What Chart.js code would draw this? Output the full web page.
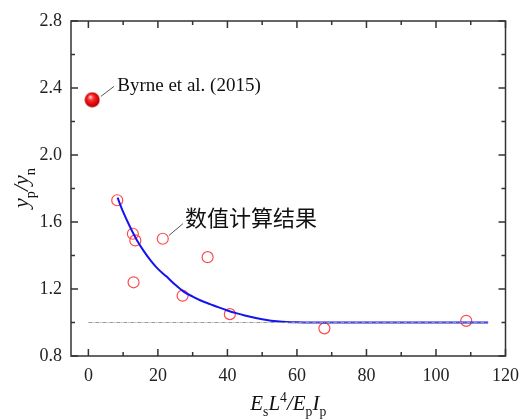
<!DOCTYPE html>
<html>
<head>
<meta charset="utf-8">
<script src="https://cdn.jsdelivr.net/npm/chart.js@4/dist/chart.umd.min.js"></script>
<style>
  html, body { margin: 0; padding: 0; background: #fff; }
  #wrap { width: 520px; height: 420px; }
</style>
</head>
<body>
<div id="wrap"><canvas id="mycanvas"></canvas></div>
<script>
// numerical results (open circles)
var simX = [8.3, 12.8, 13.5, 13.0, 21.4, 34.3, 27.1, 40.7, 67.9, 108.7];
var simY = [1.73, 1.53, 1.49, 1.24, 1.50, 1.39, 1.16, 1.05, 0.965, 1.01];
// Byrne et al. (2015)
var byrneX = [1.1];
var byrneY = [2.33];
// fitted curve
var fitX = [8.4, 10, 12, 14, 16, 18, 20, 22.5, 25, 27.5, 30, 32.5, 35, 37.5, 40, 42.5, 45, 50, 55, 60, 65, 70, 80, 90, 100, 110, 115];
var fitY = [1.745, 1.66, 1.57, 1.49, 1.425, 1.368, 1.32, 1.274, 1.225, 1.183, 1.155, 1.13, 1.11, 1.09, 1.072, 1.056, 1.042, 1.02, 1.006, 1.001, 1.0, 1.0, 1.0, 1.0, 1.0, 1.0, 1.0];
// reference line y = 1
var refX = [0, 115];
var refY = [1, 1];
// ticks
var xMajor = [0, 20, 40, 60, 80, 100, 120];
var xMinor = [10, 30, 50, 70, 90, 110];
var yMajor = [0.8, 1.2, 1.6, 2.0, 2.4, 2.8];
var yMinor = [1.0, 1.4, 1.8, 2.2, 2.6];

function pts(xs, ys) {
  var out = [];
  for (var i in xs) out.push({x: xs[i], y: ys[i]});
  return out;
}

// shaded red ball for the Byrne point
var ball = document.createElement('canvas');
ball.width = 16; ball.height = 16;
var bctx = ball.getContext('2d');
var g = bctx.createRadialGradient(6, 5, 0.5, 8, 8, 8);
g.addColorStop(0, '#ffd0d0');
g.addColorStop(0.3, '#ff3030');
g.addColorStop(0.8, '#d00000');
g.addColorStop(1, '#900000');
bctx.fillStyle = g;
bctx.beginPath(); bctx.arc(8, 8, 7.5, 0, Math.PI * 2); bctx.fill();

var serif = '"Liberation Serif", "Times New Roman", serif';

function richText(ctx, x, y, parts, size, align) {
  // parts: [text, kind] kind: n, sub, sup
  var w = 0;
  parts.forEach(function (p) {
    ctx.font = (p[1] == 'n' ? 'italic ' + size : (size * 0.65)) + 'px ' + serif;
    w += ctx.measureText(p[0]).width;
  });
  var cx = align == 'center' ? x - w / 2 : x;
  parts.forEach(function (p) {
    var dy = 0, f;
    if (p[1] == 'n') f = 'italic ' + size + 'px ' + serif;
    else f = (size * 0.65) + 'px ' + serif;
    if (p[1] == 'sub') dy = size * 0.3;
    if (p[1] == 'sup') dy = -size * 0.4;
    ctx.font = f;
    ctx.fillText(p[0], cx, y + dy);
    cx += ctx.measureText(p[0]).width;
  });
}

var decor = {
  id: 'decor',
  afterDraw: function (chart) {
    var ctx = chart.ctx, a = chart.chartArea;
    var xs = chart.scales.x, ys = chart.scales.y;
    ctx.save();
    ctx.strokeStyle = '#333';
    ctx.lineWidth = 1.5;
    ctx.strokeRect(a.left, a.top, a.right - a.left, a.bottom - a.top);
    ctx.beginPath();
    xMajor.forEach(function (v) {
      var px = xs.getPixelForValue(v);
      ctx.moveTo(px, a.bottom); ctx.lineTo(px, a.bottom - 7);
      ctx.moveTo(px, a.top); ctx.lineTo(px, a.top + 7);
    });
    xMinor.forEach(function (v) {
      var px = xs.getPixelForValue(v);
      ctx.moveTo(px, a.bottom); ctx.lineTo(px, a.bottom - 4);
      ctx.moveTo(px, a.top); ctx.lineTo(px, a.top + 4);
    });
    yMajor.forEach(function (v) {
      var py = ys.getPixelForValue(v);
      ctx.moveTo(a.left, py); ctx.lineTo(a.left + 7, py);
      ctx.moveTo(a.right, py); ctx.lineTo(a.right - 7, py);
    });
    yMinor.forEach(function (v) {
      var py = ys.getPixelForValue(v);
      ctx.moveTo(a.left, py); ctx.lineTo(a.left + 4, py);
      ctx.moveTo(a.right, py); ctx.lineTo(a.right - 4, py);
    });
    ctx.stroke();

    // leader lines
    ctx.strokeStyle = '#555';
    ctx.lineWidth = 1;
    ctx.beginPath();
    ctx.moveTo(xs.getPixelForValue(3.6), ys.getPixelForValue(2.35));
    ctx.lineTo(xs.getPixelForValue(7.4), ys.getPixelForValue(2.41));
    ctx.moveTo(xs.getPixelForValue(23.2), ys.getPixelForValue(1.52));
    ctx.lineTo(xs.getPixelForValue(27.2), ys.getPixelForValue(1.59));
    ctx.stroke();

    // annotation texts
    ctx.fillStyle = '#111';
    ctx.textBaseline = 'middle';
    ctx.textAlign = 'left';
    ctx.font = '19px ' + serif;
    ctx.fillText('Byrne et al. (2015)', xs.getPixelForValue(8.3), ys.getPixelForValue(2.41));
    ctx.font = '22px "Noto Sans CJK SC"';
    ctx.fillText('数值计算结果', xs.getPixelForValue(27.8), ys.getPixelForValue(1.625));

    // axis titles
    ctx.textBaseline = 'alphabetic';
    richText(ctx, (a.left + a.right) / 2, 410,
      [['E', 'n'], ['s', 'sub'], ['L', 'n'], ['4', 'sup'], ['/E', 'n'], ['p', 'sub'], ['I', 'n'], ['p', 'sub']], 21, 'center');
    ctx.translate(28, 188);
    ctx.rotate(-Math.PI / 2);
    richText(ctx, 0, 0, [['y', 'n'], ['p', 'sub'], ['/y', 'n'], ['n', 'sub']], 22, 'center');
    ctx.restore();
  }
};

var ctx = document.getElementById('mycanvas');
var chart = new Chart(ctx, {
  type: 'scatter',
  data: {
    datasets: [
      {
        label: 'ref',
        data: pts(refX, refY),
        showLine: true,
        borderColor: '#999',
        borderWidth: 1,
        borderDash: [4, 1, 1, 1],
        pointRadius: 0
      },
      {
        label: 'fit',
        data: pts(fitX, fitY),
        showLine: true,
        borderColor: '#1414f0',
        borderWidth: 2,
        cubicInterpolationMode: 'monotone',
        pointRadius: 0
      },
      {
        label: 'sim',
        data: pts(simX, simY),
        borderColor: '#ff4a4a',
        backgroundColor: 'rgba(0,0,0,0)',
        borderWidth: 1.2,
        pointRadius: 5.5
      },
      {
        label: 'Byrne',
        data: pts(byrneX, byrneY),
        pointStyle: ball,
        pointRadius: 8
      }
    ]
  },
  plugins: [decor],
  options: {
    responsive: true,
    maintainAspectRatio: false,
    animation: false,
    layout: { padding: { top: 21, right: 8, left: 0, bottom: 0 } },
    plugins: { legend: { display: false }, tooltip: { enabled: false } },
    scales: {
      x: {
        type: 'linear',
        min: -5, max: 120,
        afterFit: function (s) { s.height = 64; },
        afterBuildTicks: function (s) { s.ticks = xMajor.map(function (v) { return {value: v}; }); },
        grid: { display: false },
        border: { display: false },
        ticks: { color: '#222', padding: 1, maxRotation: 0, font: { family: serif, size: 18 } }
      },
      y: {
        type: 'linear',
        min: 0.8, max: 2.8,
        afterFit: function (s) { s.width = 71; },
        afterBuildTicks: function (s) { s.ticks = yMajor.map(function (v) { return {value: v}; }); },
        grid: { display: false },
        border: { display: false },
        ticks: {
          color: '#222', padding: 1, font: { family: serif, size: 18 },
          callback: function (v) { return v.toFixed(1); }
        }
      }
    }
  }
});
</script>
</body>
</html>
